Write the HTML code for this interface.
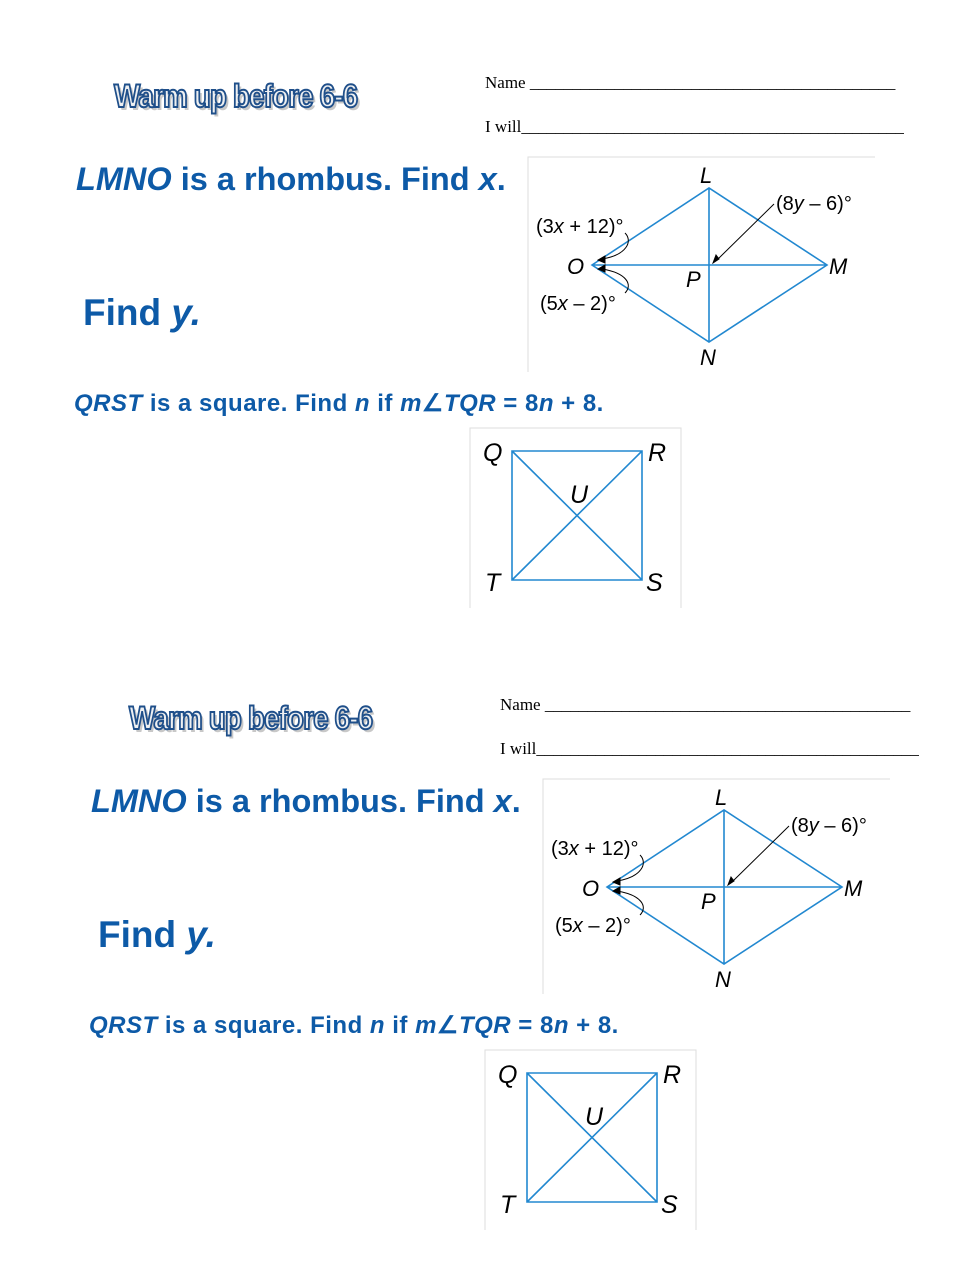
<!DOCTYPE html>
<html><head><meta charset="utf-8"><style>
body{margin:0;background:#fff;}
#p{position:relative;width:979px;height:1266px;overflow:hidden;}
.b{position:absolute;left:0;top:0;width:979px;height:640px;}
.t{position:absolute;white-space:nowrap;}
.warm{font-family:"Liberation Sans",sans-serif;font-weight:bold;font-size:32px;color:#eef0f2;-webkit-text-stroke:2px #1f4f8a;text-shadow:3px 3px 0 #c8c8c8;letter-spacing:-1px;transform:scaleX(0.87);transform-origin:left;}
.blue{font-family:"Liberation Sans",sans-serif;font-weight:bold;color:#0d5aa7;}
.ser{font-family:"Liberation Serif",serif;font-size:17px;color:#000;}
svg text{font-family:"Liberation Sans",sans-serif;}
</style></head><body><div id="p">
<div class="b" id="b1">
<div class="t warm" style="left:114px;top:78px;">Warm up before 6-6</div>
<div class="t ser" style="left:485px;top:73px;">Name ___________________________________________</div>
<div class="t ser" style="left:485px;top:117px;">I will_____________________________________________</div>
<div class="t blue" style="left:76px;top:161px;font-size:32.5px;"><i>LMNO</i> is a rhombus. Find <i>x</i>.</div>
<div class="t blue" style="left:83px;top:292px;font-size:37px;">Find <i>y.</i></div>
<div class="t blue" style="left:74px;top:389px;font-size:24px;letter-spacing:0.5px;"><i>QRST</i> is a square. Find <i>n</i> if <i>m</i>∠<i>TQR</i> = 8<i>n</i> + 8.</div>
<svg class="t" style="left:0;top:0" width="979" height="640">
<path d="M528 372V157H875" stroke="#ddd" fill="none"/>
<g stroke="#2288d0" stroke-width="1.6" fill="none">
<path d="M592 265L709 188L827 265L709 342Z M592 265H827 M709 188V342"/>
</g>
<g stroke="#000" stroke-width="1" fill="none">
<path d="M774 204L718 259"/><path d="M713 263l3-8 3 4z" fill="#000"/>
<path d="M625 233c8 8 2 22-23 26"/><path d="M598 260l7-4v7z" fill="#000"/>
<path d="M625 293c8-8 2-20-23-24"/><path d="M598 269l7-4v7z" fill="#000"/>
</g>
<g font-size="22" font-style="italic"><text x="700" y="183">L</text><text x="829" y="274">M</text><text x="700" y="365">N</text><text x="567" y="274">O</text><text x="686" y="287">P</text></g>
<g font-size="20"><text x="536" y="233">(3<tspan font-style="italic">x</tspan> + 12)°</text><text x="776" y="210">(8<tspan font-style="italic">y</tspan> – 6)°</text><text x="540" y="310">(5<tspan font-style="italic">x</tspan> – 2)°</text></g>
<path d="M470 608V428H681V608" stroke="#ddd" fill="none"/>
<g stroke="#2288d0" stroke-width="1.6" fill="none"><path d="M512 451H642V580H512Z M512 451L642 580 M642 451L512 580"/></g>
<g font-size="25" font-style="italic"><text x="483" y="461">Q</text><text x="648" y="461">R</text><text x="646" y="591">S</text><text x="485" y="591">T</text><text x="570" y="503">U</text></g>
</svg>
</div>
<div class="b" style="left:15px;top:622px;" id="b2"></div>
</div>
<script>document.getElementById('b2').innerHTML=document.getElementById('b1').innerHTML;</script>
</body></html>
